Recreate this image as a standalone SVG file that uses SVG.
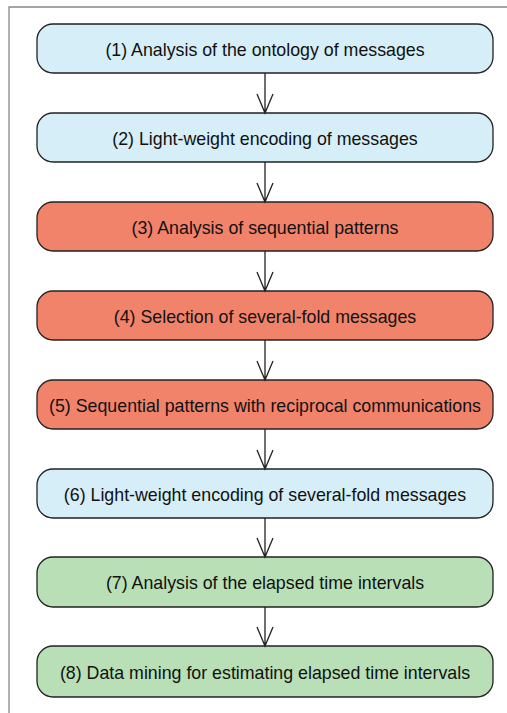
<svg xmlns="http://www.w3.org/2000/svg" width="507" height="713" viewBox="0 0 507 713">
<style>
.n rect{stroke:#222;stroke-width:1.3}
.b rect{fill:#d6eef7}
.r rect{fill:#f2836b}
.g rect{fill:#b8dfb5}
text{font-family:"Liberation Sans",Arial,sans-serif;font-size:17.8px;fill:#111;text-anchor:middle;dominant-baseline:central}
#edges path{stroke:#222;stroke-width:1.3;fill:none}
</style>
<rect width="507" height="713" fill="#fff"/>
<path d="M9,713 V7 H507" fill="none" stroke="#888" stroke-width="1.3"/>
<g id="n1" class="n b"><rect x="37" y="24" width="456" height="49" rx="16"/><text x="265" y="50">(1) Analysis of the ontology of messages</text></g>
<g id="n2" class="n b"><rect x="37" y="113" width="456" height="49" rx="16"/><text x="265" y="139">(2) Light-weight encoding of messages</text></g>
<g id="n3" class="n r"><rect x="37" y="202" width="456" height="49" rx="16"/><text x="265" y="228">(3) Analysis of sequential patterns</text></g>
<g id="n4" class="n r"><rect x="37" y="291" width="456" height="49" rx="16"/><text x="265" y="317">(4) Selection of several-fold messages</text></g>
<g id="n5" class="n r"><rect x="37" y="380" width="456" height="49" rx="16"/><text x="265" y="406">(5) Sequential patterns with reciprocal communications</text></g>
<g id="n6" class="n b"><rect x="37" y="469" width="456" height="49" rx="16"/><text x="265" y="495">(6) Light-weight encoding of several-fold messages</text></g>
<g id="n7" class="n g"><rect x="37" y="557" width="456" height="50" rx="16"/><text x="265" y="583">(7) Analysis of the elapsed time intervals</text></g>
<g id="n8" class="n g"><rect x="37" y="646" width="456" height="51" rx="16"/><text x="265" y="673">(8) Data mining for estimating elapsed time intervals</text></g>
<g id="edges">
<path d="M265,73 V113 M257,94 L265,113 L273,94"/>
<path d="M265,162 V202 M257,183 L265,202 L273,183"/>
<path d="M265,251 V291 M257,272 L265,291 L273,272"/>
<path d="M265,340 V380 M257,361 L265,380 L273,361"/>
<path d="M265,429 V469 M257,450 L265,469 L273,450"/>
<path d="M265,518 V557 M257,538 L265,557 L273,538"/>
<path d="M265,607 V646 M257,627 L265,646 L273,627"/>
</g>
</svg>
